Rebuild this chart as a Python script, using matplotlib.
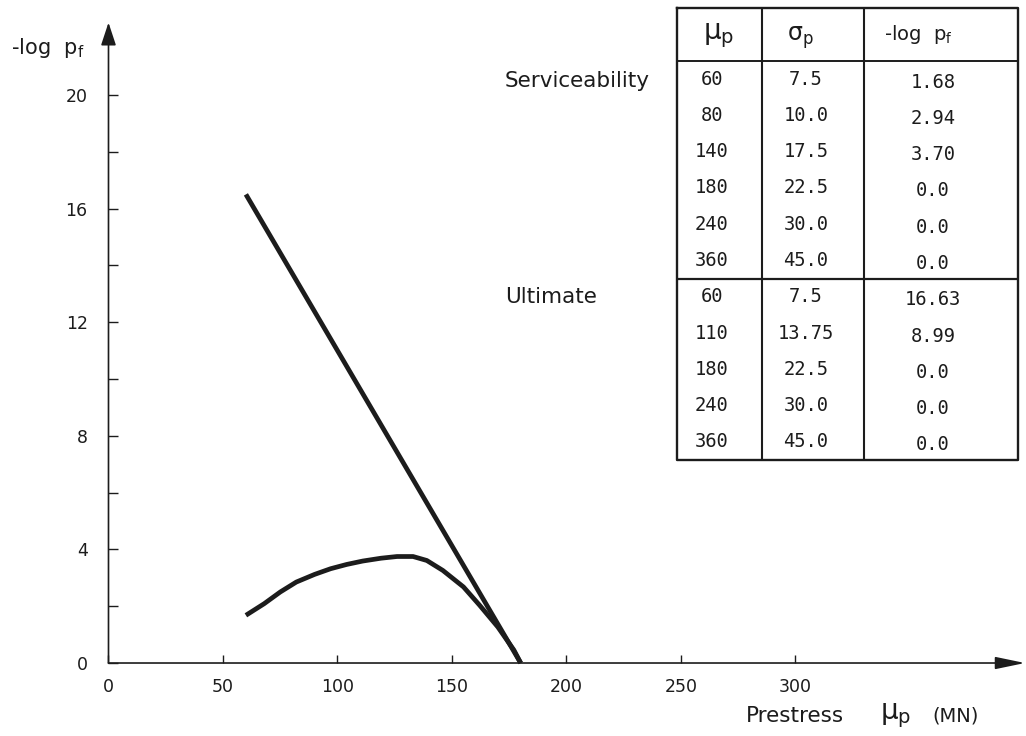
import matplotlib
matplotlib.use("Agg")
import matplotlib.pyplot as plt
from matplotlib.ticker import FixedLocator

# ---------------- data ----------------
serv_x = [60, 68, 75, 82, 90, 97, 104, 111, 119, 126, 133, 139, 146, 155, 162, 170, 177, 180]
serv_y = [1.68, 2.09, 2.50, 2.85, 3.12, 3.32, 3.47, 3.59, 3.69, 3.75, 3.75, 3.61, 3.26, 2.68,
          2.04, 1.27, 0.46, 0.0]
ult_x = [60, 180]
ult_y = [16.5, 0.0]

x_ticks = [0, 50, 100, 150, 200, 250, 300]
y_major = [0, 4, 8, 12, 16, 20]
y_minor = [2, 6, 10, 14, 18]

group_labels = ["Serviceability", "Ultimate"]
header = [r"$\mathregular{\mu_p}$", r"$\mathregular{\sigma_p}$", r"-log  $\mathregular{p_f}$"]
serv_mu = ["60", "80", "140", "180", "240", "360"]
serv_sigma = ["7.5", "10.0", "17.5", "22.5", "30.0", "45.0"]
serv_logpf = ["1.68", "2.94", "3.70", "0.0", "0.0", "0.0"]
ult_mu = ["60", "110", "180", "240", "360"]
ult_sigma = ["7.5", "13.75", "22.5", "30.0", "45.0"]
ult_logpf = ["16.63", "8.99", "0.0", "0.0", "0.0"]

INK = "#1c1c1c"
W, H = 1026, 736

fig = plt.figure(figsize=(W / 100, H / 100), dpi=100)
ax = fig.add_axes([0, 0, 1, 1])
ax.set_xlim(-47.38, 400.66)
ax.set_ylim(-2.57, 23.345)
ax.patch.set_alpha(0)

for s in ["top", "right"]:
    ax.spines[s].set_visible(False)
ax.spines["left"].set_position(("data", 0))
ax.spines["bottom"].set_position(("data", 0))
ax.spines["left"].set_visible(False)
ax.spines["bottom"].set_visible(False)

# axes with arrow heads
ax.annotate("", xy=(0, 22.55), xytext=(0, 0),
            arrowprops=dict(arrowstyle="-|>,head_length=1.0,head_width=0.33", color=INK,
                            lw=1.2, shrinkA=0, shrinkB=0, mutation_scale=14))
ax.annotate("", xy=(400.2, 0), xytext=(0, 0),
            arrowprops=dict(arrowstyle="-|>,head_length=1.3,head_width=0.27", color=INK,
                            lw=1.2, shrinkA=0, shrinkB=0, mutation_scale=14))

ax.set_xticks(x_ticks)
ax.set_xticklabels([str(v) for v in x_ticks])
ax.set_yticks(y_major)
ax.set_yticklabels([str(v) for v in y_major])
ax.yaxis.set_minor_locator(FixedLocator(y_minor))
ax.tick_params(axis="x", direction="in", length=6, width=1, pad=11, labelsize=12.5,
               colors=INK)
ax.tick_params(axis="y", which="both", direction="in", length=7, width=1, pad=15,
               labelsize=12.5, colors=INK)

# curves
ax.plot(serv_x, serv_y, color=INK, lw=3.4, solid_capstyle="butt", solid_joinstyle="round")
ax.plot(ult_x, ult_y, color=INK, lw=3.4, solid_capstyle="butt")

# axis titles
fig.text(11 / W, 1 - 48 / H, r"-log  $\mathregular{p_f}$", fontsize=15, color=INK,
         ha="left", va="center")
fig.text(746 / W, 1 - 716 / H, "Prestress", fontsize=15.5, color=INK, ha="left",
         va="center")
fig.text(880 / W, 1 - 716 / H, r"$\mathregular{\mu_p}$", fontsize=20, color=INK,
         ha="left", va="center")
fig.text(932 / W, 1 - 716 / H, "(MN)", fontsize=14, color=INK, ha="left", va="center")

# group labels
fig.text(505 / W, 1 - 81 / H, group_labels[0], fontsize=15.5, color=INK, ha="left",
         va="center")
fig.text(505 / W, 1 - 297 / H, group_labels[1], fontsize=15.5, color=INK, ha="left",
         va="center")

# ---------------- table ----------------
tl, tr, tt, tb = 677, 1018, 8, 460
tax = fig.add_axes([tl / W, 1 - tb / H, (tr - tl) / W, (tb - tt) / H])
tax.set_xlim(0, tr - tl)
tax.set_ylim(tb - tt, 0)
tax.axis("off")

tw, th = tr - tl, tb - tt
head_h = 53
n_rows = len(serv_mu) + len(ult_mu)
row_h = (th - head_h) / n_rows
col_sep = [85, 187]
sep_y = head_h + len(serv_mu) * row_h

# borders
tax.plot([0, tw, tw, 0, 0], [0, 0, th, th, 0], color=INK, lw=1.7, clip_on=False)
tax.plot([0, tw], [head_h, head_h], color=INK, lw=1.4)
tax.plot([0, tw], [sep_y, sep_y], color=INK, lw=1.6)
for cx in col_sep:
    tax.plot([cx, cx], [0, th], color=INK, lw=1.5)

col_x = [35, 129, 256]
hdr_x = [42, 123, 241]
hdr_y = [28, 30, 26]
hdr_fs = [20, 17, 14]
for hx, hy, hf, txt in zip(hdr_x, hdr_y, hdr_fs, header):
    tax.text(hx, hy, txt, fontsize=hf, color=INK, ha="center", va="center")

rows = list(zip(serv_mu, serv_sigma, serv_logpf)) + list(zip(ult_mu, ult_sigma, ult_logpf))
for i, row in enumerate(rows):
    yc = head_h + (i + 0.5) * row_h
    for j, (cx, txt) in enumerate(zip(col_x, row)):
        tax.text(cx, yc + (3 if j == 2 else 0), txt, fontsize=13.5, color=INK,
                 ha="center", va="center", family="DejaVu Sans Mono")

fig.savefig("out.png", dpi=100)
